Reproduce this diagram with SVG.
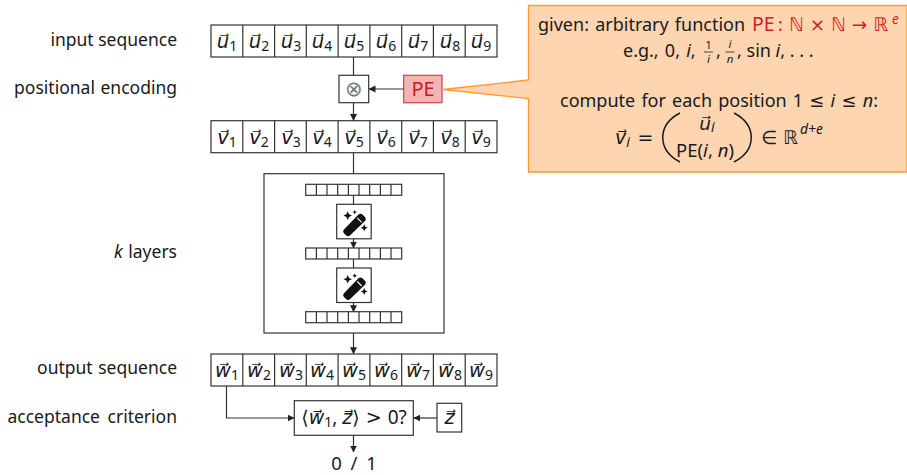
<svg xmlns="http://www.w3.org/2000/svg" width="907" height="475" viewBox="0 0 907 475">
<style>
text{font-family:"Noto Sans","DejaVu Sans",sans-serif;fill:#1a1a1a}
.b{fill:#fff;stroke:#333;stroke-width:1.2}
.l{font-size:17.5px;text-anchor:end;word-spacing:1px}
.v{font-size:19.5px;text-anchor:middle}
.i{font-style:italic}
.s{font-size:14px}
.m{font-family:"DejaVu Sans",sans-serif}
.r{fill:#d02020}
.t{font-size:18px;word-spacing:1.5px}
.e{fill:none;stroke:#333;stroke-width:1.2}
.p{fill:none;stroke:#1a1a1a;stroke-width:1.5}
.f{fill:none;stroke:#1a1a1a;stroke-width:.8}
</style>
<defs>
<marker id="a" markerWidth="8" markerHeight="8" refX="6.5" refY="3.5" orient="auto" markerUnits="userSpaceOnUse"><path d="M0 0L7 3.5L0 7Z" fill="#222"/></marker>
<g id="row" class="e"><rect x="0" y="0" width="286" height="32" class="b"/><path d="M31.8 0V32M63.6 0V32M95.3 0V32M127.1 0V32M158.9 0V32M190.7 0V32M222.4 0V32M254.2 0V32"/></g>
<g id="mini" class="e"><rect x="0" y="0" width="96" height="11" class="b"/><path d="M10.7 0V11M21.3 0V11M32 0V11M42.7 0V11M53.3 0V11M64 0V11M74.7 0V11M85.3 0V11"/></g>
<g id="wand"><rect x="0" y="0" width="34.5" height="34.5" class="b"/>
<path d="M7.5 25L21.5 10.5a3.2 3.2 0 0 1 4.5 0l2 2a3.2 3.2 0 0 1 0 4.5L13.5 31a3 3 0 0 1-4.2 0l-1.8-1.8a3 3 0 0 1 0-4.2Z" fill="#111"/>
<path d="M20.5 13.5l4.5 4.5" stroke="#fff" stroke-width="1.1"/>
<path d="M11 7l1.3 3 3 1.3-3 1.3-1.3 3-1.3-3-3-1.3 3-1.3ZM27.5 20l1.1 2.4 2.4 1.1-2.4 1.1-1.1 2.4-1.1-2.4-2.4-1.1 2.4-1.1ZM18 5.5l.7 1.6 1.6.7-1.6.7-.7 1.6-.7-1.6-1.6-.7 1.6-.7Z" fill="#111"/></g>
</defs>

<g id="labels">
<text class="l" x="177" y="46" style="word-spacing:0">input sequence</text>
<text class="l" x="177" y="94">positional encoding</text>
<text class="l" x="177" y="258"><tspan class="i">k</tspan>  layers</text>
<text class="l" x="177" y="374">output sequence</text>
<text class="l" x="177" y="423" style="word-spacing:3px">acceptance criterion</text>
</g>

<g id="input-sequence"><use href="#row" x="211" y="25"/>
<text class="v" x="227" y="48"><tspan class="i">u⃗</tspan><tspan class="s" dy="3">1</tspan></text><text class="v" x="259" y="48"><tspan class="i">u⃗</tspan><tspan class="s" dy="3">2</tspan></text><text class="v" x="291" y="48"><tspan class="i">u⃗</tspan><tspan class="s" dy="3">3</tspan></text><text class="v" x="322" y="48"><tspan class="i">u⃗</tspan><tspan class="s" dy="3">4</tspan></text><text class="v" x="354" y="48"><tspan class="i">u⃗</tspan><tspan class="s" dy="3">5</tspan></text><text class="v" x="386" y="48"><tspan class="i">u⃗</tspan><tspan class="s" dy="3">6</tspan></text><text class="v" x="418" y="48"><tspan class="i">u⃗</tspan><tspan class="s" dy="3">7</tspan></text><text class="v" x="450" y="48"><tspan class="i">u⃗</tspan><tspan class="s" dy="3">8</tspan></text><text class="v" x="481" y="48"><tspan class="i">u⃗</tspan><tspan class="s" dy="3">9</tspan></text></g>

<g id="combine"><rect class="b" x="339" y="75.3" width="29.7" height="27.4"/><text x="353.7" y="96" text-anchor="middle" font-size="21" style="font-family:'DejaVu Sans',sans-serif;fill:#777">⊗</text></g>

<g id="pe"><rect x="403.7" y="75.3" width="38.3" height="27.4" fill="#f2b5b5" stroke="#d84040" stroke-width="1.2"/><text x="423" y="96" text-anchor="middle" font-size="20" style="fill:#d01818">PE</text></g>

<g id="embedded-sequence"><use href="#row" x="211" y="120.7"/>
<text class="v" x="227" y="144"><tspan class="i">v⃗</tspan><tspan class="s" dy="3">1</tspan></text><text class="v" x="259" y="144"><tspan class="i">v⃗</tspan><tspan class="s" dy="3">2</tspan></text><text class="v" x="291" y="144"><tspan class="i">v⃗</tspan><tspan class="s" dy="3">3</tspan></text><text class="v" x="322" y="144"><tspan class="i">v⃗</tspan><tspan class="s" dy="3">4</tspan></text><text class="v" x="354" y="144"><tspan class="i">v⃗</tspan><tspan class="s" dy="3">5</tspan></text><text class="v" x="386" y="144"><tspan class="i">v⃗</tspan><tspan class="s" dy="3">6</tspan></text><text class="v" x="418" y="144"><tspan class="i">v⃗</tspan><tspan class="s" dy="3">7</tspan></text><text class="v" x="450" y="144"><tspan class="i">v⃗</tspan><tspan class="s" dy="3">8</tspan></text><text class="v" x="481" y="144"><tspan class="i">v⃗</tspan><tspan class="s" dy="3">9</tspan></text></g>

<g id="layers"><rect class="b" x="264" y="173.7" width="180" height="159.3"/>
<use href="#mini" x="305.7" y="184.3"/><use href="#wand" x="336.7" y="204.3"/><use href="#mini" x="305.7" y="248"/><use href="#wand" x="336.7" y="268"/><use href="#mini" x="305.7" y="311.7"/></g>

<g id="output-sequence"><use href="#row" x="211" y="354"/>
<text class="v" x="227" y="377"><tspan class="i">w⃗</tspan><tspan class="s" dy="3">1</tspan></text><text class="v" x="259" y="377"><tspan class="i">w⃗</tspan><tspan class="s" dy="3">2</tspan></text><text class="v" x="291" y="377"><tspan class="i">w⃗</tspan><tspan class="s" dy="3">3</tspan></text><text class="v" x="322" y="377"><tspan class="i">w⃗</tspan><tspan class="s" dy="3">4</tspan></text><text class="v" x="354" y="377"><tspan class="i">w⃗</tspan><tspan class="s" dy="3">5</tspan></text><text class="v" x="386" y="377"><tspan class="i">w⃗</tspan><tspan class="s" dy="3">6</tspan></text><text class="v" x="418" y="377"><tspan class="i">w⃗</tspan><tspan class="s" dy="3">7</tspan></text><text class="v" x="450" y="377"><tspan class="i">w⃗</tspan><tspan class="s" dy="3">8</tspan></text><text class="v" x="481" y="377"><tspan class="i">w⃗</tspan><tspan class="s" dy="3">9</tspan></text></g>

<g id="criterion"><rect class="b" x="294.3" y="400.7" width="119" height="34.6"/><text x="354" y="424" text-anchor="middle" font-size="19"><tspan class="m">⟨</tspan><tspan class="i">w⃗</tspan><tspan class="s" dy="3">1</tspan><tspan dy="-3">, </tspan><tspan class="i">z⃗</tspan><tspan class="m">⟩ &gt; </tspan>0?</text></g>
<g id="z"><rect class="b" x="437" y="403.3" width="24.7" height="28.7"/><text x="449.5" y="424" text-anchor="middle" font-size="19.5" class="i">z⃗</text></g>
<g id="result"><text x="354" y="469.5" text-anchor="middle" font-size="18.5" style="word-spacing:4px">0 / 1</text></g>

<g id="callout">
<path d="M528.5 5.5H907V172H528.5V98.5L443 89.5L528.5 80Z" fill="#fdd5b1" stroke="#ff9933" stroke-width="1.3"/>
<text x="538" y="31" class="t">given: arbitrary function</text>
<text x="752" y="31" class="t r" style="font-size:19.5px">PE</text>
<text x="778" y="31" class="t r">: <tspan class="m" style="word-spacing:0;font-size:18.5px">ℕ × ℕ → ℝ</tspan></text>
<text x="892" y="24" class="r i" font-size="13.5">e</text>
<text x="623" y="57" class="t">e.g., 0, <tspan class="i">i</tspan>,</text>
<text x="708.5" y="49" text-anchor="middle" font-size="11.5">1</text><path d="M704 52H713" class="f"/><text x="708.5" y="63" text-anchor="middle" font-size="11.5" class="i">i</text>
<text x="716" y="57" class="t">,</text>
<text x="730" y="48" text-anchor="middle" font-size="11.5" class="i">i</text><path d="M725.5 52H734.5" class="f"/><text x="730" y="63" text-anchor="middle" font-size="11.5" class="i">n</text>
<text x="737" y="57" class="t" style="word-spacing:0">, sin <tspan class="i">i</tspan>, . . .</text>
<text x="719" y="107" text-anchor="middle" class="t">compute for each position 1 <tspan class="m">≤</tspan> <tspan class="i">i</tspan> <tspan class="m">≤</tspan> <tspan class="i">n</tspan>:</text>
<text x="615" y="144" class="t" style="font-size:19px"><tspan class="i">v⃗</tspan><tspan class="i s" dy="3">i</tspan><tspan dy="-3" class="m"> =</tspan></text>
<path d="M680 113C657 125 657 150 680 162" class="p"/>
<path d="M734 113C757 125 757 150 734 162" class="p"/>
<text x="707" y="130" text-anchor="middle" style="font-size:18.5px"><tspan class="i">u⃗</tspan><tspan class="i s" dy="2">i</tspan></text>
<text x="705" y="157" text-anchor="middle" style="font-size:18.5px">PE(<tspan class="i">i</tspan>, <tspan class="i">n</tspan>)</text>
<text x="761" y="144" class="t" style="font-size:18.5px;word-spacing:0"><tspan class="m">∈ ℝ</tspan></text>
<text x="800" y="134" class="i" style="font-size:14px">d+e</text>
</g>

<g id="connectors" class="e">
<path d="M353.5 57V75.3"/>
<path d="M403.5 89H369" marker-end="url(#a)"/>
<path d="M353.5 102.7V120.5" marker-end="url(#a)"/>
<path d="M353.5 152.7V173.7"/>
<path d="M353.5 195.3V204.3"/>
<path d="M353.5 239V248" marker-end="url(#a)"/>
<path d="M353.5 259V268"/>
<path d="M353.5 303V311.7" marker-end="url(#a)"/>
<path d="M353.5 333V353.8" marker-end="url(#a)"/>
<path d="M226.5 386V418H294" marker-end="url(#a)"/>
<path d="M437 418H413.8" marker-end="url(#a)"/>
<path d="M353.5 435.3V452" marker-end="url(#a)"/>
</g>
</svg>
